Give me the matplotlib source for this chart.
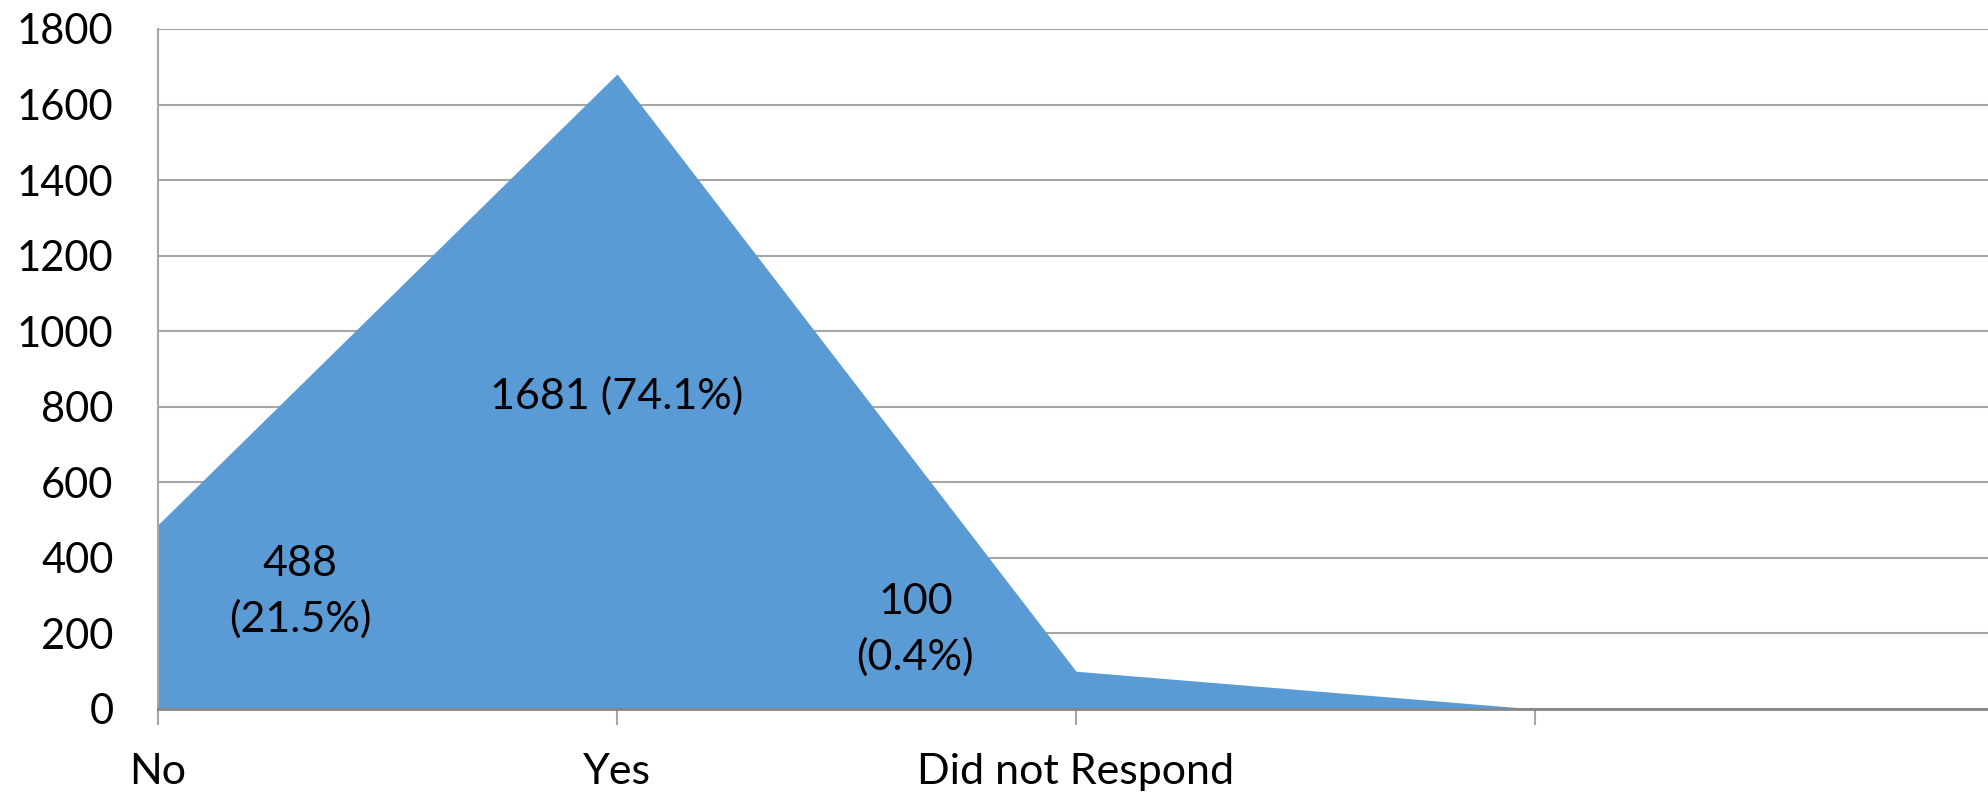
import matplotlib
matplotlib.use("Agg")
import matplotlib.pyplot as plt
import numpy as np

categories = ["No", "Yes", "Did not Respond", ""]
counts = [488, 1681, 100, 0]
labels = ["488\n(21.5%)", "1681 (74.1%)", "100\n(0.4%)"]
# where each data label sits (category position, height)
label_x = [0.31, 1.0, 1.65]
label_y = [310, 828, 209]

plt.rcParams['font.family'] = ['Lato', 'DejaVu Sans']

fig = plt.figure(figsize=(19.88, 7.96), dpi=100)
ax = fig.add_axes([158 / 1988, 1 - 709 / 796, 1 - 158 / 1988, (709 - 29) / 796])

x = np.arange(len(counts))
ax.fill_between(x, counts, 0, color="#5B9BD5", linewidth=0, zorder=2)

for tx, ty, t in zip(label_x, label_y, labels):
    ax.text(tx, ty, t, ha="center", va="center", fontsize=31,
            linespacing=1.5, zorder=3)

ax.set_xlim(0, (1988 - 158) / 459)
ax.set_ylim(0, 1800)
ax.set_yticks(np.arange(0, 1801, 200))
ax.set_xticks(x)
ax.set_xticklabels(categories)

ax.grid(axis="y", color="#A6A6A6", linewidth=1.5, zorder=1)
ax.set_axisbelow(True)
for side in ["top", "right"]:
    ax.spines[side].set_visible(False)
ax.spines["left"].set_color("#A6A6A6")
ax.spines["left"].set_linewidth(1.5)
ax.spines["bottom"].set_color("#868686")
ax.spines["bottom"].set_linewidth(2)
ax.spines["bottom"].set_zorder(4)

ax.tick_params(axis="y", length=0, pad=32, labelsize=30)
ax.tick_params(axis="x", length=11.5, width=1.5, color="#A6A6A6",
               pad=20, labelsize=31)

fig.savefig("out.png", dpi=100)
